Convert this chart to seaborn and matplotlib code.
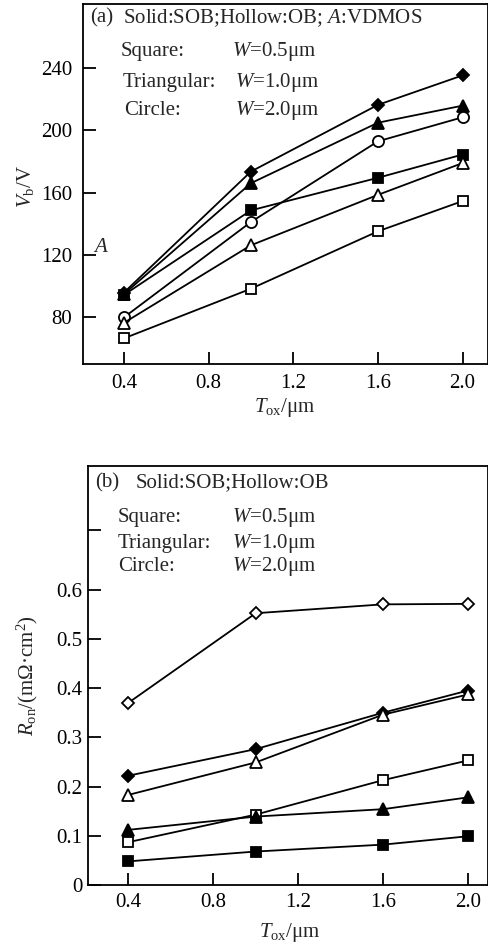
import matplotlib
matplotlib.use("Agg")
import matplotlib.pyplot as plt
import seaborn as sns
import pandas as pd

sns.set_theme(style="ticks")
plt.rcParams["font.family"] = ["Liberation Serif", "DejaVu Serif"]
plt.rcParams["mathtext.fontset"] = "custom"
plt.rcParams["mathtext.rm"] = "Liberation Serif"
plt.rcParams["mathtext.it"] = "Liberation Serif:italic"

# ---------------- data ----------------
tox = [0.4, 1.0, 1.6, 2.0]

# panel (a): breakdown voltage Vb (V)
a_vdmos_filled_diamond = [95.5, 173.5, 216.5, 235.5]
a_sob_w10_filled_tri = [94.5, 166, 205, 216]
a_ob_w20_open_circle = [79.5, 141, 193, 208.5]
a_sob_w05_filled_sq = [94, 148.5, 169.5, 184.5]
a_ob_w10_open_tri = [76, 126, 158.5, 179]
a_ob_w05_open_sq = [66, 98, 135, 154.5]

# panel (b): on-resistance Ron (mOhm cm^2)
b_open_diamond = [0.370, 0.552, 0.570, 0.571]
b_filled_diamond = [0.222, 0.276, 0.350, 0.395]
b_ob_w10_open_tri = [0.183, 0.249, 0.346, 0.387]
b_ob_w05_open_sq = [0.087, 0.143, 0.213, 0.253]
b_sob_w10_filled_tri = [0.112, 0.139, 0.154, 0.178]
b_sob_w05_filled_sq = [0.048, 0.068, 0.082, 0.099]

xticks = [0.4, 0.8, 1.2, 1.6, 2.0]
xticklabels = ["0.4", "0.8", "1.2", "1.6", "2.0"]
a_yticks = [80, 120, 160, 200, 240]
b_yticks = [0, 0.1, 0.2, 0.3, 0.4, 0.5, 0.6, 0.72]
b_yticklabels = ["0", "0.1", "0.2", "0.3", "0.4", "0.5", "0.6", ""]

a_series = [
    ("VDMOS", a_vdmos_filled_diamond, "D", "black", 6.0),
    ("SOB W=1.0", a_sob_w10_filled_tri, "^", "black", 8),
    ("OB W=2.0", a_ob_w20_open_circle, "o", "white", 8),
    ("SOB W=0.5", a_sob_w05_filled_sq, "s", "black", 7.5),
    ("OB W=1.0", a_ob_w10_open_tri, "^", "white", 8),
    ("OB W=0.5", a_ob_w05_open_sq, "s", "white", 7.5),
]
b_series = [
    ("open diamond", b_open_diamond, "D", "white", 6.0),
    ("filled diamond", b_filled_diamond, "D", "black", 6.0),
    ("OB W=1.0", b_ob_w10_open_tri, "^", "white", 8),
    ("OB W=0.5", b_ob_w05_open_sq, "s", "white", 7.5),
    ("SOB W=1.0", b_sob_w10_filled_tri, "^", "black", 8),
    ("SOB W=0.5", b_sob_w05_filled_sq, "s", "black", 7.5),
]

W, H = 489, 947
fig = plt.figure(figsize=(W / 100, H / 100), dpi=100)
fig.patch.set_facecolor("white")


def ax_rect(l, t, r, b):
    return [l / W, 1 - b / H, (r - l) / W, (b - t) / H]


ax_a = fig.add_axes(ax_rect(83, 4, 488, 364))
ax_b = fig.add_axes(ax_rect(88, 466, 488, 885))

FS = 15


def draw(ax, series):
    for name, vals, mk, fc, ms in series:
        df = pd.DataFrame({"Tox": tox, "val": vals})
        sns.lineplot(data=df, x="Tox", y="val", ax=ax, color="black",
                     linewidth=1.3, marker=mk, markersize=ms,
                     markerfacecolor=fc, markeredgecolor="black",
                     markeredgewidth=1.3, legend=False, zorder=3)
    for s in ax.spines.values():
        s.set_visible(True)
        s.set_linewidth(1.3)
        s.set_color("black")
    ax.set_facecolor("white")
    ax.tick_params(direction="in", length=9, width=1.3, colors="black",
                   labelsize=FS)
    ax.set_xticks(xticks)
    ax.set_xticklabels(xticklabels)
    ax.xaxis.label.set_va("center")
    ax.yaxis.label.set_va("center")


draw(ax_a, a_series)
ax_a.set_xlim(0.207, 2.12)
ax_a.set_ylim(49.5, 281.5)
ax_a.set_yticks(a_yticks)
ax_a.tick_params(axis="y", pad=8)
ax_a.tick_params(axis="x", pad=7)
ax_a.set_xlabel(r"$\it{T}_{\rm ox}$/μm", fontsize=FS)
ax_a.set_ylabel(r"$\it{V}_{\rm b}$/V", fontsize=FS)
ax_a.xaxis.set_label_coords(0.499, -0.12)
ax_a.yaxis.set_label_coords(-0.143, 0.494)

ta = ax_a.transAxes
ax_a.text(0.017, 0.961, "(a)", transform=ta, fontsize=FS, va="center")
ax_a.text(0.099, 0.961, r"Solid:SOB;Hollow:OB; $\it{A}$:VDMOS",
          transform=ta, fontsize=FS, va="center")
for (lab, w, y, xl, xw) in [("Square:", "0.5", 0.867, 0.094, 0.368),
                             ("Triangular:", "1.0", 0.783, 0.099, 0.375),
                             ("Circle:", "2.0", 0.703, 0.101, 0.375)]:
    ax_a.text(xl, y, lab, transform=ta, fontsize=FS, va="center")
    ax_a.text(xw, y, r"$\it{W}$=" + w + "μm", transform=ta, fontsize=FS,
              va="center")
ax_a.text(0.025, 0.325, r"$\it{A}$", transform=ta, fontsize=FS, va="center")

draw(ax_b, b_series)
ax_b.set_xlim(0.21, 2.094)
ax_b.set_ylim(0, 0.851)
ax_b.set_yticks(b_yticks)
ax_b.set_yticklabels(b_yticklabels)
ax_b.tick_params(axis="y", pad=4)
ax_b.tick_params(axis="x", pad=5.5)
ax_b.set_xlabel(r"$\it{T}_{\rm ox}$/μm", fontsize=FS)
ax_b.set_ylabel(r"$\it{R}_{\rm on}$/(mΩ·cm$^2$)", fontsize=FS)
ax_b.xaxis.set_label_coords(0.505, -0.114)
ax_b.yaxis.set_label_coords(-0.1525, 0.499)

tb = ax_b.transAxes
ax_b.text(0.0175, 0.959, "(b)", transform=tb, fontsize=FS, va="center")
ax_b.text(0.118, 0.959, "Solid:SOB;Hollow:OB", transform=tb, fontsize=FS,
          va="center")
for (lab, w, y) in [("Square:", "0.5", 0.878),
                    ("Triangular:", "1.0", 0.816),
                    ("Circle:", "2.0", 0.759)]:
    ax_b.text(0.075, y, lab, transform=tb, fontsize=FS, va="center")
    ax_b.text(0.36, y, r"$\it{W}$=" + w + "μm", transform=tb, fontsize=FS,
              va="center")

fig.savefig("out.png", dpi=100, facecolor="white")
